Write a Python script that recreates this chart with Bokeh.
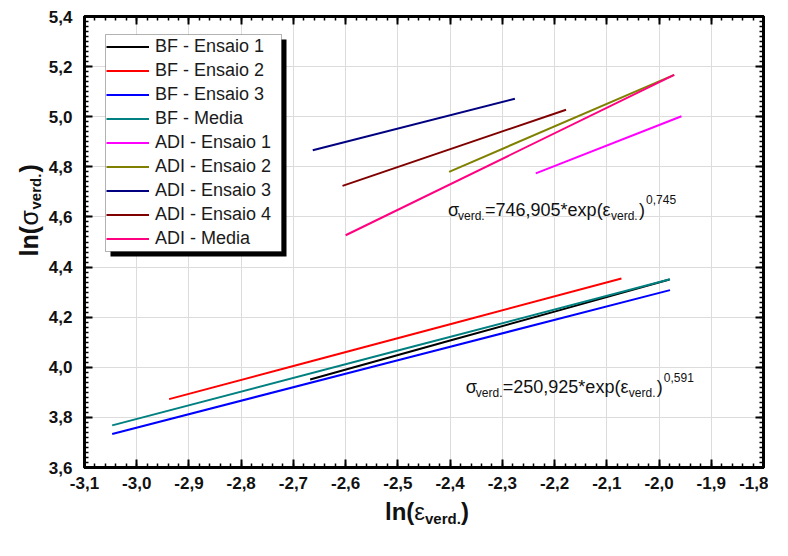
import numpy as np
from bokeh.plotting import figure
from bokeh.layouts import row, column
from bokeh.models import (LinearAxis, FixedTicker, CustomJSTickFormatter, Range1d,
                          Legend, LegendItem, Label, BoxAnnotation, Div)
from bokeh.embed import file_html
from bokeh.resources import INLINE

# ---------------- data ----------------
x_ticks = [-3.1, -3.0, -2.9, -2.8, -2.7, -2.6, -2.5, -2.4, -2.3, -2.2, -2.1, -2.0, -1.9, -1.8]
y_ticks = [3.6, 3.8, 4.0, 4.2, 4.4, 4.6, 4.8, 5.0, 5.2, 5.4]

series_names = ["BF - Ensaio 1", "BF - Ensaio 2", "BF - Ensaio 3", "BF - Media",
                "ADI - Ensaio 1", "ADI - Ensaio 2", "ADI - Ensaio 3", "ADI - Ensaio 4",
                "ADI - Media"]
series_colors = ["#000000", "#FF0000", "#0000FF", "#008080",
                 "#FF00FF", "#808000", "#000080", "#800000", "#FF0080"]

bf_ensaio1_x = [-2.668, -2.40, -2.20, -1.980]
bf_ensaio1_y = [3.951, 4.107, 4.222, 4.350]
bf_ensaio2_x = [-2.938, -2.70, -2.40, -2.072]
bf_ensaio2_y = [3.873, 4.005, 4.172, 4.354]
bf_ensaio3_x = [-3.047, -2.50, -1.979]
bf_ensaio3_y = [3.734, 4.028, 4.308]
bf_media_x = [-3.047, -2.50, -1.979]
bf_media_y = [3.768, 4.067, 4.351]
adi_ensaio1_x = [-2.236, -1.957]
adi_ensaio1_y = [4.774, 5.002]
adi_ensaio2_x = [-2.402, -1.971]
adi_ensaio2_y = [4.780, 5.167]
adi_ensaio3_x = [-2.663, -2.276]
adi_ensaio3_y = [4.866, 5.072]
adi_ensaio4_x = [-2.606, -2.178]
adi_ensaio4_y = [4.724, 5.028]
adi_media_x = [-2.600, -1.971]
adi_media_y = [4.527, 5.167]

series_x = [bf_ensaio1_x, bf_ensaio2_x, bf_ensaio3_x, bf_media_x,
            adi_ensaio1_x, adi_ensaio2_x, adi_ensaio3_x, adi_ensaio4_x, adi_media_x]
series_y = [bf_ensaio1_y, bf_ensaio2_y, bf_ensaio3_y, bf_media_y,
            adi_ensaio1_y, adi_ensaio2_y, adi_ensaio3_y, adi_ensaio4_y, adi_media_y]

FONT = "Liberation Sans"
TXT = "#111111"

# ---------------- main figure ----------------
p = figure(width=724, height=498, x_range=Range1d(-3.1, -1.8), y_range=Range1d(3.6, 5.4),
           output_backend="svg", toolbar_location=None,
           min_border_left=40, min_border_right=5, min_border_top=16, min_border_bottom=31)
p.background_fill_color = "white"
p.border_fill_color = "white"
p.outline_line_color = "black"
p.outline_line_width = 3

x_minor = [round(-3.1 + 0.02 * i, 2) for i in range(66)]
y_minor = [round(3.6 + 0.02 * i, 2) for i in range(91)]
xt = FixedTicker(ticks=x_ticks, minor_ticks=x_minor)
yt = FixedTicker(ticks=y_ticks, minor_ticks=y_minor)
fmt = CustomJSTickFormatter(code="return tick.toFixed(1).replace('.', ',');")
blank = CustomJSTickFormatter(code="return '';")

bottom_axis = p.below[0]
left_axis = p.left[0]
top_axis = LinearAxis()
right_axis = LinearAxis()
p.add_layout(top_axis, "above")
p.add_layout(right_axis, "right")

for ax, tk, lab in [(bottom_axis, xt, True), (left_axis, yt, True),
                    (top_axis, xt, False), (right_axis, yt, False)]:
    ax.ticker = tk
    ax.axis_line_width = 3
    ax.axis_line_color = "black"
    ax.major_tick_in = 8
    ax.major_tick_out = 0
    ax.minor_tick_in = 4
    ax.minor_tick_out = 0
    ax.major_tick_line_width = 2
    ax.minor_tick_line_width = 1.5
    ax.major_tick_line_color = "black"
    ax.minor_tick_line_color = "black"
    if lab:
        ax.formatter = fmt
        ax.major_label_text_font = FONT
        ax.major_label_text_font_style = "bold"
        ax.major_label_text_font_size = "17px"
        ax.major_label_text_color = TXT
    else:
        ax.formatter = blank
        ax.major_label_text_font_size = "1px"
        ax.major_label_standoff = 0

bottom_axis.major_label_standoff = 9
left_axis.major_label_standoff = 12

p.xgrid.ticker = xt
p.ygrid.ticker = yt
p.xgrid.grid_line_color = "#DCDCDC"
p.ygrid.grid_line_color = "#DCDCDC"

renderers = []
for xs, ys, c in zip(series_x, series_y, series_colors):
    r = p.line(xs, ys, line_color=c, line_width=2)
    renderers.append(r)

# legend box with drop shadow
p.add_layout(BoxAnnotation(left=26, right=202, top=428, bottom=211,
                           left_units="screen", right_units="screen",
                           top_units="screen", bottom_units="screen",
                           fill_color="black", fill_alpha=1, line_alpha=0))
p.add_layout(BoxAnnotation(left=21, right=197, top=433, bottom=216,
                           left_units="screen", right_units="screen",
                           top_units="screen", bottom_units="screen",
                           fill_color="white", fill_alpha=1, line_color="black",
                           line_width=1))
legend = Legend(items=[LegendItem(label=n, renderers=[r]) for n, r in zip(series_names, renderers)],
                location=(22, 218), padding=0, spacing=3, margin=0,
                glyph_width=43, glyph_height=21, label_height=21, label_standoff=6,
                label_text_font=FONT, label_text_font_size="18px", label_text_color="#1A1A1A",
                border_line_alpha=0, background_fill_alpha=0)
p.add_layout(legend)


def rich(fig, x, y, pieces, units="data", angle=0.0):
    for text, dx, dy, size, style in pieces:
        if angle == 0:
            ox, oy = dx, dy
        else:
            ox, oy = -dy, dx
        fig.add_layout(Label(x=x, y=y, x_units=units, y_units=units, text=text,
                             x_offset=ox, y_offset=oy, angle=angle,
                             text_font=FONT, text_font_size=size, text_font_style=style,
                             text_color=TXT, text_baseline="alphabetic",
                             text_align="left"))


rich(p, -2.404, 4.628, [("σ", 0, 0, "18px", "normal"),
                        ("verd.", 10, -6, "12px", "normal"),
                        ("=746,905*exp(ε", 37, 0, "18px", "normal"),
                        ("verd.", 163, -6, "12px", "normal"),
                        (")", 191, 0, "18px", "normal"),
                        ("0,745", 198, 10, "12px", "normal")])
rich(p, -2.37, 3.92, [("σ", 0, 0, "18px", "normal"),
                      ("verd.", 10, -6, "12px", "normal"),
                      ("=250,925*exp(ε", 37, 0, "18px", "normal"),
                      ("verd.", 163, -6, "12px", "normal"),
                      (")", 191, 0, "18px", "normal"),
                      ("0,591", 198, 10, "12px", "normal")])


# ---------------- y-axis title strip ----------------
ytf = figure(width=44, height=498, x_axis_type=None, y_axis_type=None, title=None,
             output_backend="svg", toolbar_location=None,
             min_border=0, x_range=Range1d(0, 1), y_range=Range1d(0, 1))
ytf.outline_line_color = None
ytf.background_fill_color = "white"
ytf.border_fill_color = "white"
ytf.xgrid.visible = False
ytf.ygrid.visible = False
rich(ytf, 28, 211, [("ln(", 0, 0, "25px", "bold"),
                    ("σ", 31, 0, "25px", "normal"),
                    ("verd.", 47, -7, "15px", "bold"),
                    (")", 84, 0, "25px", "bold")], units="screen", angle=np.pi / 2)

# ---------------- x-axis title (HTML text, not clipped) ----------------
xtitle = Div(
    text=("<div style=\"padding-left:385px; font-family:'Liberation Sans', Arial, sans-serif;"
          " font-size:24px; font-weight:bold; line-height:28px; color:#111111;"
          " white-space:nowrap;\">ln(<span style=\"font-weight:normal\">&epsilon;</span>"
          "<sub style=\"font-size:15px; vertical-align:-4px; line-height:0\">verd.</sub>)</div>"),
    width=768, height=34, margin=0)

layout = column(row(ytf, p, spacing=0), xtitle, spacing=0)
open("out.html", "w").write(file_html(layout, INLINE))
